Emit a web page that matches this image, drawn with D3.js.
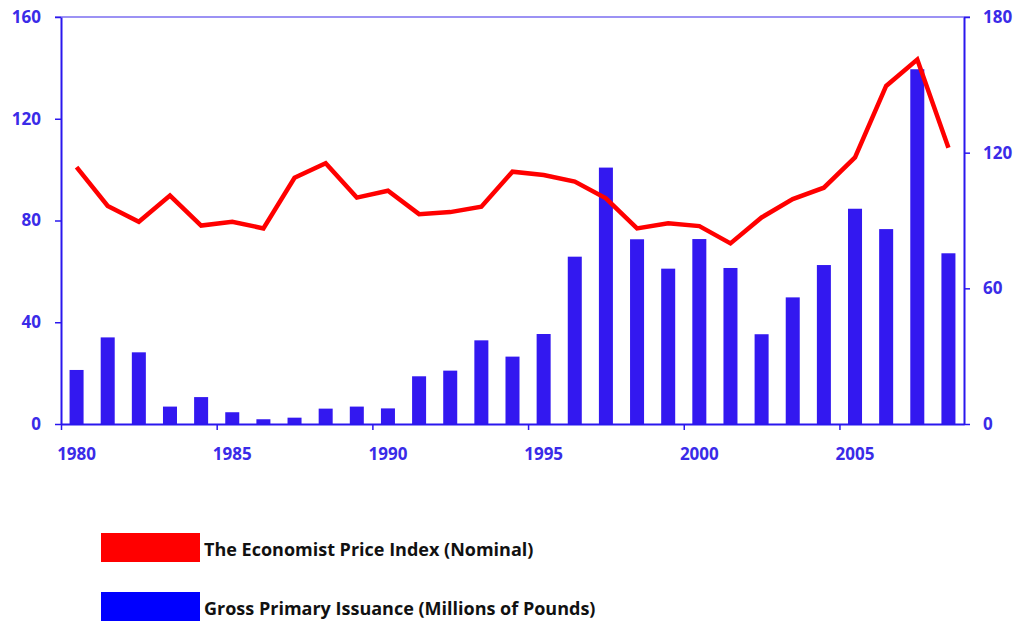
<!DOCTYPE html>
<html>
<head>
<meta charset="utf-8">
<script src="https://cdn.jsdelivr.net/npm/d3@7"></script>
<style>
  body { margin: 0; background: #fff; }
  text { font-family: "Open Sans", Lato, sans-serif; font-weight: bold; }
</style>
</head>
<body>
<div id="chart"></div>
<script>
// values
var years = d3.range(1980, 2009);
var priceIndex = [101, 85.7, 79.5, 89.8, 78, 79.5, 76.9, 96.8, 102.5, 89, 91.7, 82.5, 83.3, 85.4, 99.2,
                  97.9, 95.3, 88.7, 76.9, 78.9, 77.8, 71, 81.2, 88.4, 92.9, 104.8, 132.9, 143.3, 108.6];
var issuance = [23.9, 38.3, 31.7, 7.7, 11.9, 5.2, 2.1, 2.8, 6.8, 7.7, 6.9, 21.1, 23.6, 37, 29.8,
                39.8, 74, 113.4, 81.7, 68.7, 81.8, 69, 39.7, 56, 70.3, 95.2, 86.2, 156.9, 75.5];
var leftTicks = [0, 40, 80, 120, 160];
var rightTicks = [0, 60, 120, 180];
var yearTicks = [1980, 1985, 1990, 1995, 2000, 2005];
var legendLabels = ["The Economist Price Index (Nominal)", "Gross Primary Issuance (Millions of Pounds)"];
var legendColors = ["#ff0000", "#0000ff"];

var w = 1023, h = 624;
var margin = { top: 17, left: 61, right: 59, bottom: 200 };
var width = w - margin.left - margin.right;
var height = h - margin.top - margin.bottom;

var axisColor = "#2a17ee";
var labelColor = "#3a2be8";

var svg = d3.select("#chart").append("svg")
  .attr("width", w)
  .attr("height", h);

var chartGroup = svg.append("g")
  .attr("transform", `translate(${margin.left}, ${margin.top})`);

// scales
var xBand = d3.scaleBand()
  .domain(years)
  .range([0, width])
  .paddingInner(0.55)
  .paddingOuter(0.275);

var xEdge = d3.scaleLinear()
  .domain([1980, 2009])
  .range([0, width]);

var yLeft = d3.scaleLinear().domain([0, 160]).range([height, 0]);
var yRight = d3.scaleLinear().domain([0, 180]).range([height, 0]);

// top border
chartGroup.append("line")
  .attr("x1", -6).attr("x2", width + 6)
  .attr("y1", 0).attr("y2", 0)
  .attr("stroke", "#7b6ef0")
  .attr("stroke-width", 1.5);

// bars
chartGroup.selectAll("rect.bar")
  .data(issuance)
  .enter()
  .append("rect")
  .attr("class", "bar")
  .attr("x", (d, i) => xBand(years[i]))
  .attr("width", xBand.bandwidth())
  .attr("y", d => yRight(d))
  .attr("height", d => height - yRight(d))
  .attr("fill", "#3318f0");

// axes
function styleAxis(g) {
  g.select(".domain").attr("stroke", axisColor).attr("stroke-width", 2);
  g.selectAll(".tick line").attr("stroke", axisColor).attr("stroke-width", 1.5);
  g.selectAll("text")
    .attr("fill", labelColor)
    .style("font-size", "17px")
    .style("font-family", "'Open Sans', Lato, sans-serif")
    .style("font-weight", "bold");
}

var leftAxis = d3.axisLeft(yLeft).tickValues(leftTicks).tickSize(6).tickSizeOuter(0).tickPadding(14);
chartGroup.append("g").call(leftAxis).call(styleAxis);

var rightAxis = d3.axisRight(yRight).tickValues(rightTicks).tickSize(6).tickSizeOuter(0).tickPadding(13);
chartGroup.append("g")
  .attr("transform", `translate(${width}, 0)`)
  .call(rightAxis).call(styleAxis);

// x axis: tick marks on category edges, labels at category centres
var edgeAxis = d3.axisBottom(xEdge).tickValues(yearTicks).tickSize(6).tickSizeOuter(0).tickFormat("");
chartGroup.append("g")
  .attr("transform", `translate(0, ${height})`)
  .call(edgeAxis).call(styleAxis);

var labelAxis = d3.axisBottom(xBand).tickValues(yearTicks).tickSize(0).tickPadding(24);
var labelG = chartGroup.append("g")
  .attr("transform", `translate(0, ${height})`)
  .call(labelAxis).call(styleAxis);
labelG.select(".domain").remove();

// line
var line = d3.line()
  .x((d, i) => xBand(years[i]) + xBand.bandwidth() / 2)
  .y(d => yLeft(d));

chartGroup.append("path")
  .datum(priceIndex)
  .attr("d", line)
  .attr("fill", "none")
  .attr("stroke", "#ff0000")
  .attr("stroke-width", 4.5)
  .attr("stroke-linejoin", "miter");

// legend
var legend = svg.selectAll("g.legend")
  .data(legendLabels)
  .enter()
  .append("g")
  .attr("class", "legend")
  .attr("transform", (d, i) => `translate(101, ${533 + i * 59})`);

legend.append("rect")
  .attr("width", 99)
  .attr("height", 29)
  .attr("fill", (d, i) => legendColors[i]);

legend.append("text")
  .attr("x", 103)
  .attr("y", 23)
  .attr("fill", "#111")
  .style("font-size", "18px")
  .text(d => d);
</script>
</body>
</html>
